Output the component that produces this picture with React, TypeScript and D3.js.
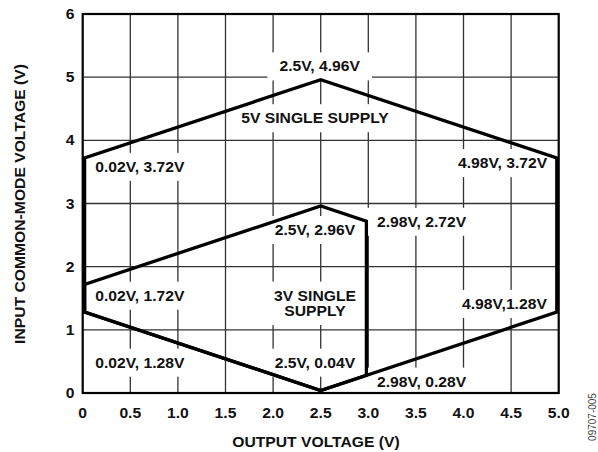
import React, { useEffect, useRef } from "react";
import * as d3 from "d3";

// Data
const xTicks = [0, 0.5, 1.0, 1.5, 2.0, 2.5, 3.0, 3.5, 4.0, 4.5, 5.0];
const xTickLabels = ["0", "0.5", "1.0", "1.5", "2.0", "2.5", "3.0", "3.5", "4.0", "4.5", "5.0"];
const yTicks = [0, 1, 2, 3, 4, 5, 6];
const yTickLabels = ["0", "1", "2", "3", "4", "5", "6"];

// 5V single supply region (output V, input CM V)
const supply5X = [0.02, 0.02, 2.5, 4.98, 4.98, 2.5];
const supply5Y = [1.28, 3.72, 4.96, 3.72, 1.28, 0.04];
// 3V single supply region
const supply3X = [0.02, 0.02, 2.5, 2.98, 2.98, 2.5];
const supply3Y = [1.28, 1.72, 2.96, 2.72, 0.28, 0.04];

// Annotations
const annText = [
  ["2.5V, 4.96V"],
  ["5V SINGLE SUPPLY"],
  ["0.02V, 3.72V"],
  ["4.98V, 3.72V"],
  ["2.5V, 2.96V"],
  ["2.98V, 2.72V"],
  ["0.02V, 1.72V"],
  ["3V SINGLE", "SUPPLY"],
  ["4.98V,1.28V"],
  ["0.02V, 1.28V"],
  ["2.5V, 0.04V"],
  ["2.98V, 0.28V"],
];
const annX = [2.49, 2.44, 0.6, 4.41, 2.44, 3.56, 0.6, 2.44, 4.43, 0.6, 2.44, 3.56];
const annY = [5.17, 4.35, 3.58, 3.64, 2.58, 2.71, 1.54, 1.42, 1.41, 0.48, 0.48, 0.18];

const FONT = "'Liberation Sans', Arial, Helvetica, sans-serif";
const SX = 1.12;

export default function App() {
  const ref = useRef<SVGSVGElement | null>(null);

  useEffect(() => {
    const svg = d3.select(ref.current);
    svg.selectAll("*").remove();

    const x = d3.scaleLinear().domain([0, 5]).range([82.7, 558.7]);
    const y = d3.scaleLinear().domain([0, 6]).range([393, 14]);

    const g = svg.append("g");

    // gridlines
    g.selectAll("line.vx")
      .data(xTicks.slice(1, -1))
      .enter()
      .append("line")
      .attr("x1", (d) => x(d))
      .attr("x2", (d) => x(d))
      .attr("y1", y(0))
      .attr("y2", y(6))
      .attr("stroke", "#333")
      .attr("stroke-width", 1.3);
    g.selectAll("line.hy")
      .data(yTicks.slice(1, -1))
      .enter()
      .append("line")
      .attr("x1", x(0))
      .attr("x2", x(5))
      .attr("y1", (d) => y(d))
      .attr("y2", (d) => y(d))
      .attr("stroke", "#333")
      .attr("stroke-width", 1.3);

    // annotations with white boxes
    const boxLayer = g.append("g");
    const textLayer = svg.append("g");
    annText.forEach((lines, i) => {
      const cx = x(annX[i]);
      const cy = y(annY[i]);
      const lh = 15.5;
      const t = textLayer
        .append("text")
        .attr("transform", `translate(${cx},${cy - ((lines.length - 1) * lh) / 2}) scale(${SX},1)`)
        .attr("text-anchor", "middle")
        .attr("font-family", FONT)
        .attr("font-weight", "bold")
        .attr("font-size", 14)
        .attr("fill", "#111");
      lines.forEach((ln, k) => {
        t.append("tspan").attr("x", 0).attr("y", k * lh + 5).text(ln);
      });
      const node = t.node() as SVGTextElement;
      const bb = node.getBBox();
      const w = bb.width * SX + 24;
      const h = (lines.length - 1) * lh + 28;
      boxLayer
        .append("rect")
        .attr("x", cx - w / 2)
        .attr("y", cy - h / 2)
        .attr("width", w)
        .attr("height", h)
        .attr("fill", "#fff");
    });

    // region outlines
    const poly = (xs: number[], ys: number[]) => {
      const pts = xs.map((v, i) => [x(v), y(ys[i])] as [number, number]);
      return d3.line().curve(d3.curveLinearClosed)(pts) as string;
    };
    svg
      .append("path")
      .attr("d", poly(supply5X, supply5Y))
      .attr("fill", "none")
      .attr("stroke", "#000")
      .attr("stroke-width", 3.3)
      .attr("stroke-linejoin", "miter");
    svg
      .append("path")
      .attr("d", poly(supply3X, supply3Y))
      .attr("fill", "none")
      .attr("stroke", "#000")
      .attr("stroke-width", 3.3)
      .attr("stroke-linejoin", "miter");

    // border
    svg
      .append("rect")
      .attr("x", x(0))
      .attr("y", y(6))
      .attr("width", x(5) - x(0))
      .attr("height", y(0) - y(6))
      .attr("fill", "none")
      .attr("stroke", "#000")
      .attr("stroke-width", 2.2);

    // tick labels
    xTicks.forEach((v, i) => {
      svg
        .append("text")
        .attr("transform", `translate(${x(v)},${418}) scale(${SX},1)`)
        .attr("text-anchor", "middle")
        .attr("font-family", FONT)
        .attr("font-weight", "bold")
        .attr("font-size", 14)
        .attr("fill", "#111")
        .text(xTickLabels[i]);
    });
    yTicks.forEach((v, i) => {
      svg
        .append("text")
        .attr("transform", `translate(${74.5},${y(v) + 5}) scale(${SX},1)`)
        .attr("text-anchor", "end")
        .attr("font-family", FONT)
        .attr("font-weight", "bold")
        .attr("font-size", 14)
        .attr("fill", "#111")
        .text(yTickLabels[i]);
    });

    // axis titles
    svg
      .append("text")
      .attr("transform", `translate(${316},${447}) scale(${SX},1)`)
      .attr("text-anchor", "middle")
      .attr("font-family", FONT)
      .attr("font-weight", "bold")
      .attr("font-size", 14)
      .attr("fill", "#111")
      .text("OUTPUT VOLTAGE (V)");
    svg
      .append("text")
      .attr("transform", `translate(${25},${204}) rotate(-90) scale(${SX},1)`)
      .attr("text-anchor", "middle")
      .attr("font-family", FONT)
      .attr("font-weight", "bold")
      .attr("font-size", 14)
      .attr("fill", "#111")
      .text("INPUT COMMON-MODE VOLTAGE (V)");

    // figure id
    svg
      .append("text")
      .attr("transform", `translate(${596},${417}) rotate(-90)`)
      .attr("text-anchor", "middle")
      .attr("font-family", FONT)
      .attr("font-size", 10)
      .attr("fill", "#444")
      .text("09707-005");
  }, []);

  return (
    <svg
      ref={ref}
      width={598}
      height={452}
      style={{ position: "absolute", left: 0, top: 0, background: "#fff" }}
    />
  );
}
